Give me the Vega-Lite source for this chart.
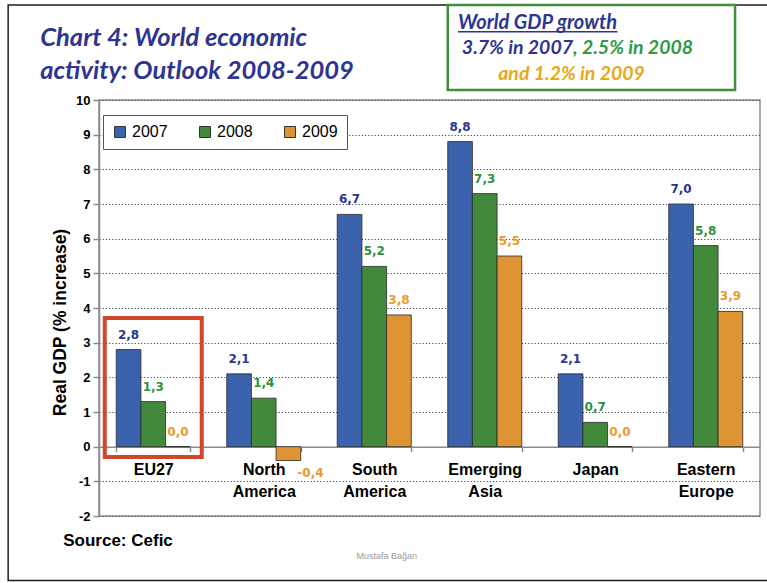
{
  "$schema": "https://vega.github.io/schema/vega-lite/v6.json",
  "autosize": "none",
  "width": 661,
  "height": 416,
  "padding": {"left": 99, "top": 100, "right": 7, "bottom": 67},
  "background": "white",
  "config": {
    "locale": {"number": {"decimal": ",", "thousands": ".", "grouping": [3], "currency": ["", ""], "minus": "-"}},
    "view": {"stroke": "#8c8c8c", "strokeWidth": 1.5},
    "axisX": {
      "offset": -69.33, "title": null,
      "labelExpr": "split(datum.label, ' ')",
      "labelAngle": 0,
      "labelFont": "Liberation Sans", "labelFontWeight": "bold", "labelFontSize": 16,
      "labelColor": "#000000", "labelLineHeight": 22, "labelPadding": 10,
      "labelBaseline": "top",
      "tickBand": "extent", "tickSize": 5, "tickColor": "#8c8c8c", "tickWidth": 1.5,
      "domainColor": "#8c8c8c", "domainWidth": 1.5, "grid": false
    },
    "axisY": {
      "labelOverlap": false,
      "titleFont": "Liberation Sans", "titleFontWeight": "bold", "titleFontSize": 17.5,
      "titleColor": "#000000", "titleX": -39, "titleY": 222, "titleBaseline": "middle", "titleAlign": "center", "titleAngle": -90,
      "labelFont": "Liberation Sans", "labelFontWeight": "bold", "labelFontSize": 13,
      "labelColor": "#000000", "labelPadding": 3,
      "tickSize": 6, "tickColor": "#8c8c8c", "tickWidth": 1.5,
      "domainColor": "#8c8c8c", "domainWidth": 1.5,
      "grid": true, "gridColor": "#4a4a4a", "gridDash": [1.2, 2], "gridWidth": 1.2
    }
  },
  "datasets": {
    "gdp": [
      {"region": "EU27", "year": "2007", "value": 2.8},
      {"region": "EU27", "year": "2008", "value": 1.3},
      {"region": "EU27", "year": "2009", "value": 0.0},
      {"region": "North America", "year": "2007", "value": 2.1},
      {"region": "North America", "year": "2008", "value": 1.4},
      {"region": "North America", "year": "2009", "value": -0.4},
      {"region": "South America", "year": "2007", "value": 6.7},
      {"region": "South America", "year": "2008", "value": 5.2},
      {"region": "South America", "year": "2009", "value": 3.8},
      {"region": "Emerging Asia", "year": "2007", "value": 8.8},
      {"region": "Emerging Asia", "year": "2008", "value": 7.3},
      {"region": "Emerging Asia", "year": "2009", "value": 5.5},
      {"region": "Japan", "year": "2007", "value": 2.1},
      {"region": "Japan", "year": "2008", "value": 0.7},
      {"region": "Japan", "year": "2009", "value": 0.0},
      {"region": "Eastern Europe", "year": "2007", "value": 7.0},
      {"region": "Eastern Europe", "year": "2008", "value": 5.8},
      {"region": "Eastern Europe", "year": "2009", "value": 3.9}
    ]
  },
  "layer": [
    {
      "data": {"name": "gdp"},
      "mark": {"type": "bar", "stroke": "#2a2a2a", "strokeWidth": 0.8},
      "encoding": {
        "x": {
          "field": "region", "type": "nominal",
          "sort": ["EU27", "North America", "South America", "Emerging Asia", "Japan", "Eastern Europe"],
          "scale": {"paddingInner": 0.33, "paddingOuter": 0.156},
          "axis": {"orient": "bottom", "title": null}
        },
        "xOffset": {
          "field": "year", "type": "nominal",
          "scale": {"paddingInner": 0, "paddingOuter": 0}
        },
        "y": {
          "field": "value", "type": "quantitative",
          "scale": {"domain": [-2, 10], "nice": false},
          "axis": {"values": [-2, -1, 0, 1, 2, 3, 4, 5, 6, 7, 8, 9, 10], "title": "Real GDP (% increase)"}
        },
        "color": {
          "field": "year", "type": "nominal",
          "scale": {"domain": ["2007", "2008", "2009"], "range": ["#3b63ad", "#43893c", "#df9433"]},
          "legend": {
            "orient": "none", "legendX": 4, "legendY": 15, "direction": "horizontal",
            "title": null, "symbolType": "square", "symbolSize": 121,
            "symbolStrokeColor": "#333333", "symbolStrokeWidth": 1,
            "labelFont": "Liberation Sans", "labelFontSize": 16, "labelColor": "#000000",
            "labelOffset": 4, "columnPadding": 29, "padding": 9,
            "strokeColor": "#555555", "fillColor": "#ffffff"
          }
        }
      }
    },
    {
      "data": {"name": "gdp"},
      "transform": [{"filter": "datum.value >= 0"}],
      "mark": {"type": "text", "font": "DejaVu Sans", "fontWeight": "bold", "fontSize": 12, "baseline": "middle", "dy": -15},
      "encoding": {
        "x": {"field": "region", "type": "nominal", "sort": ["EU27", "North America", "South America", "Emerging Asia", "Japan", "Eastern Europe"], "axis": {"orient": "bottom", "title": null}},
        "xOffset": {"field": "year", "type": "nominal"},
        "y": {"field": "value", "type": "quantitative", "axis": {"values": [-2, -1, 0, 1, 2, 3, 4, 5, 6, 7, 8, 9, 10], "title": "Real GDP (% increase)"}},
        "text": {"field": "value", "type": "quantitative", "format": ".1f"},
        "fill": {
          "field": "year", "type": "nominal",
          "scale": {"domain": ["2007", "2008", "2009"], "range": ["#2c3593", "#2e9140", "#e89b2c"]},
          "legend": null
        }
      }
    },
    {
      "data": {"name": "gdp"},
      "transform": [{"filter": "datum.value < 0"}],
      "mark": {"type": "text", "font": "DejaVu Sans", "fontWeight": "bold", "fontSize": 12, "baseline": "middle", "dy": 12, "dx": 22},
      "encoding": {
        "x": {"field": "region", "type": "nominal", "sort": ["EU27", "North America", "South America", "Emerging Asia", "Japan", "Eastern Europe"], "axis": {"orient": "bottom", "title": null}},
        "xOffset": {"field": "year", "type": "nominal"},
        "y": {"field": "value", "type": "quantitative", "axis": {"values": [-2, -1, 0, 1, 2, 3, 4, 5, 6, 7, 8, 9, 10], "title": "Real GDP (% increase)"}},
        "text": {"field": "value", "type": "quantitative", "format": ".1f"},
        "fill": {"field": "year", "type": "nominal", "legend": null}
      }
    },
    {
      "data": {"values": [{"note": "EU27 highlight"}]},
      "mark": {"type": "bar", "fill": "transparent", "stroke": "#d4452b", "strokeWidth": 4, "width": {"band": 1.31}},
      "encoding": {
        "x": {"datum": "EU27", "axis": {"orient": "bottom", "title": null}},
        "y": {"datum": 3.71, "axis": {"values": [-2, -1, 0, 1, 2, 3, 4, 5, 6, 7, 8, 9, 10], "title": "Real GDP (% increase)"}},
        "y2": {"datum": -0.3}
      }
    },
    {
      "data": {"values": [{"note": "page frame"}]},
      "mark": {"type": "rect", "fill": "transparent", "stroke": "#1e1e1e", "strokeWidth": 1.5},
      "encoding": {
        "x": {"datum": "EU27", "bandPosition": -1.46, "axis": {"orient": "bottom", "title": null}},
        "x2": {"datum": "Eastern Europe", "bandPosition": 1.4},
        "y": {"datum": 12.74, "axis": {"values": [-2, -1, 0, 1, 2, 3, 4, 5, 6, 7, 8, 9, 10], "title": "Real GDP (% increase)"}},
        "y2": {"datum": -3.86}
      }
    },
    {
      "data": {"values": [{"note": "box"}]},
      "mark": {"type": "rect", "fill": "#ffffff", "stroke": "#3f8f3f", "strokeWidth": 2.5},
      "encoding": {
        "x": {"datum": "Emerging Asia", "bandPosition": 0, "axis": {"orient": "bottom", "title": null}},
        "x2": {"datum": "Eastern Europe", "bandPosition": 0.896},
        "y": {"datum": 12.74, "axis": {"values": [-2, -1, 0, 1, 2, 3, 4, 5, 6, 7, 8, 9, 10], "title": "Real GDP (% increase)"}},
        "y2": {"datum": 10.29}
      }
    },
    {
      "data": {"values": [{"text": "Chart 4: World economic"}]},
      "mark": {"type": "text", "font": "Lato", "fontStyle": "italic", "fontWeight": "bold", "fontSize": 25.5, "align": "left", "baseline": "middle", "dx": -76, "color": "#2e3590"},
      "encoding": {
        "x": {"datum": "EU27", "bandPosition": 0, "axis": {"orient": "bottom", "title": null}},
        "y": {"datum": 11.79, "axis": {"values": [-2, -1, 0, 1, 2, 3, 4, 5, 6, 7, 8, 9, 10], "title": "Real GDP (% increase)"}},
        "text": {"field": "text"}
      }
    },
    {
      "data": {"values": [{"text": "activity: Outlook 2008-2009"}]},
      "mark": {"type": "text", "font": "Lato", "fontStyle": "italic", "fontWeight": "bold", "fontSize": 25.5, "align": "left", "baseline": "middle", "dx": -76, "color": "#2e3590"},
      "encoding": {
        "x": {"datum": "EU27", "bandPosition": 0, "axis": {"orient": "bottom", "title": null}},
        "y": {"datum": 10.84, "axis": {"values": [-2, -1, 0, 1, 2, 3, 4, 5, 6, 7, 8, 9, 10], "title": "Real GDP (% increase)"}},
        "text": {"field": "text"}
      }
    },
    {
      "data": {"values": [{"text": "World GDP growth"}]},
      "mark": {"type": "text", "font": "Lato", "fontStyle": "italic", "fontWeight": "bold", "fontSize": 20, "align": "left", "baseline": "middle", "color": "#2e3590"},
      "encoding": {
        "x": {"datum": "Emerging Asia", "bandPosition": 0.139, "axis": {"orient": "bottom", "title": null}},
        "y": {"datum": 12.22, "axis": {"values": [-2, -1, 0, 1, 2, 3, 4, 5, 6, 7, 8, 9, 10], "title": "Real GDP (% increase)"}},
        "text": {"field": "text"}
      }
    },
    {
      "data": {"values": [{"note": "underline"}]},
      "mark": {"type": "rule", "color": "#2e3590", "strokeWidth": 1.5},
      "encoding": {
        "x": {"datum": "Emerging Asia", "bandPosition": 0.139, "axis": {"orient": "bottom", "title": null}},
        "x2": {"datum": "Japan", "bandPosition": 0.8},
        "y": {"datum": 11.97, "axis": {"values": [-2, -1, 0, 1, 2, 3, 4, 5, 6, 7, 8, 9, 10], "title": "Real GDP (% increase)"}}
      }
    },
    {
      "data": {"values": [{"text": "3.7% in 2007"}]},
      "mark": {"type": "text", "font": "Lato", "fontStyle": "italic", "fontWeight": "bold", "fontSize": 19.5, "align": "right", "baseline": "middle", "color": "#2e3590"},
      "encoding": {
        "x": {"datum": "Japan", "bandPosition": 0.2, "axis": {"orient": "bottom", "title": null}},
        "y": {"datum": 11.5, "axis": {"values": [-2, -1, 0, 1, 2, 3, 4, 5, 6, 7, 8, 9, 10], "title": "Real GDP (% increase)"}},
        "text": {"field": "text"}
      }
    },
    {
      "data": {"values": [{"text": ", 2.5% in 2008"}]},
      "mark": {"type": "text", "font": "Lato", "fontStyle": "italic", "fontWeight": "bold", "fontSize": 19.5, "align": "left", "baseline": "middle", "color": "#2e9a44"},
      "encoding": {
        "x": {"datum": "Japan", "bandPosition": 0.2, "axis": {"orient": "bottom", "title": null}},
        "y": {"datum": 11.5, "axis": {"values": [-2, -1, 0, 1, 2, 3, 4, 5, 6, 7, 8, 9, 10], "title": "Real GDP (% increase)"}},
        "text": {"field": "text"}
      }
    },
    {
      "data": {"values": [{"text": "and 1.2% in 2009"}]},
      "mark": {"type": "text", "font": "Lato", "fontStyle": "italic", "fontWeight": "bold", "fontSize": 19.5, "align": "center", "baseline": "middle", "color": "#e8a817"},
      "encoding": {
        "x": {"datum": "Japan", "bandPosition": 0.18, "axis": {"orient": "bottom", "title": null}},
        "y": {"datum": 10.75, "axis": {"values": [-2, -1, 0, 1, 2, 3, 4, 5, 6, 7, 8, 9, 10], "title": "Real GDP (% increase)"}},
        "text": {"field": "text"}
      }
    },
    {
      "data": {"values": [{"text": "Source: Cefic"}]},
      "mark": {"type": "text", "font": "Liberation Sans", "fontWeight": "bold", "fontSize": 17, "align": "left", "baseline": "middle", "dx": -53, "color": "#000000"},
      "encoding": {
        "x": {"datum": "EU27", "bandPosition": 0, "axis": {"orient": "bottom", "title": null}},
        "y": {"datum": -2.72, "axis": {"values": [-2, -1, 0, 1, 2, 3, 4, 5, 6, 7, 8, 9, 10], "title": "Real GDP (% increase)"}},
        "text": {"field": "text"}
      }
    },
    {
      "data": {"values": [{"text": "Mustafa Bağan"}]},
      "mark": {"type": "text", "font": "Liberation Sans", "fontSize": 9, "align": "center", "baseline": "middle", "color": "#9a9a9a"},
      "encoding": {
        "x": {"datum": "South America", "bandPosition": 0.67, "axis": {"orient": "bottom", "title": null}},
        "y": {"datum": -3.15, "axis": {"values": [-2, -1, 0, 1, 2, 3, 4, 5, 6, 7, 8, 9, 10], "title": "Real GDP (% increase)"}},
        "text": {"field": "text"}
      }
    }
  ]
}
